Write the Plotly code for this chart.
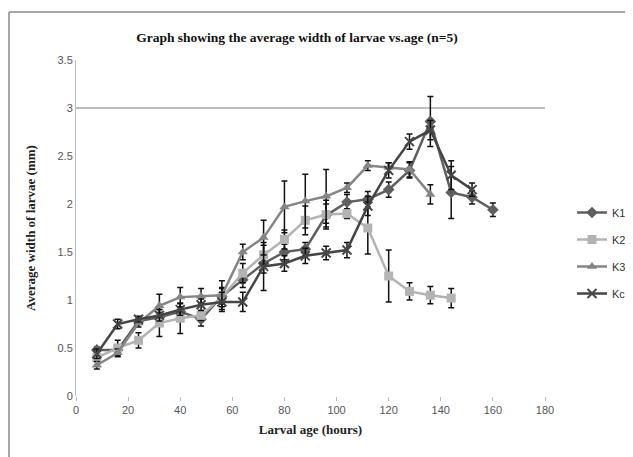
import plotly.graph_objects as go

age = [8, 16, 24, 32, 40, 48, 56, 64, 72, 80, 88, 96, 104, 112, 120, 128, 136, 144, 152, 160]

k1 = [0.48, 0.48, 0.78, 0.82, 0.88, 0.80, 1.04, 1.21, 1.38, 1.50, 1.53, 1.88, 2.02, 2.05, 2.15, 2.35, 2.86, 2.12, 2.07, 1.94]
k1_err = [0.03, 0.03, 0.03, 0.05, 0.05, 0.07, 0.08, 0.08, 0.10, 0.08, 0.07, 0.12, 0.08, 0.08, 0.08, 0.08, 0.26, 0.27, 0.07, 0.07]

k2 = [0.40, 0.50, 0.58, 0.76, 0.81, 0.84, 1.03, 1.28, 1.47, 1.63, 1.83, 1.89, 1.90, 1.75, 1.25, 1.09, 1.05, 1.02]
k2_err = [0.04, 0.08, 0.08, 0.14, 0.16, 0.05, 0.10, 0.10, 0.10, 0.10, 0.15, 0.15, 0.05, 0.27, 0.27, 0.09, 0.09, 0.10]

k3 = [0.32, 0.45, 0.76, 0.94, 1.03, 1.04, 1.05, 1.50, 1.65, 1.97, 2.03, 2.08, 2.17, 2.40, 2.38, 2.36, 2.10]
k3_err = [0.04, 0.04, 0.04, 0.12, 0.10, 0.08, 0.15, 0.08, 0.18, 0.27, 0.28, 0.28, 0.05, 0.05, 0.05, 0.08, 0.10]

kc = [0.44, 0.75, 0.80, 0.84, 0.90, 0.95, 0.98, 0.98, 1.35, 1.38, 1.46, 1.49, 1.52, 1.98, 2.35, 2.65, 2.77, 2.30, 2.15]
kc_err = [0.05, 0.05, 0.03, 0.06, 0.06, 0.06, 0.10, 0.10, 0.25, 0.08, 0.08, 0.07, 0.08, 0.10, 0.08, 0.08, 0.10, 0.15, 0.07]

x_ticks = [0, 20, 40, 60, 80, 100, 120, 140, 160, 180]
y_ticks = [0, 0.5, 1, 1.5, 2, 2.5, 3, 3.5]
y_tick_labels = ["0", "0.5", "1", "1.5", "2", "2.5", "3", "3.5"]

series = [
    ("K1", k1, k1_err, "#5f5f5f", "diamond", 9),
    ("K2", k2, k2_err, "#b3b3b3", "square", 9),
    ("K3", k3, k3_err, "#858585", "triangle-up", 9),
    ("Kc", kc, kc_err, "#454545", "x-thin-open", 9),
]

fig = go.Figure()
for name, vals, err, color, sym, size in series:
    marker = dict(symbol=sym, size=size, color=color)
    if "open" in sym:
        marker["line"] = dict(color=color, width=2)
    fig.add_trace(go.Scatter(
        x=age[:len(vals)], y=vals, name=name, legendgroup=name, mode="lines+markers",
        line=dict(color=color, width=2.5),
        marker=marker,
        error_y=dict(type="data", array=err, visible=True, color="#111111", thickness=1.5, width=3),
    ))

# plot geometry (figure pixels)
L, T, R, B = 68, 52, 96, 69
PW, PH = 633 - L - R, 457 - T - B

# horizontal line at 3 and outer chart border
fig.add_shape(type="line", xref="x", yref="y", x0=0, x1=180, y0=3, y1=3,
              line=dict(color="#7a7a7a", width=1.2), layer="below")
fig.add_shape(type="line", xref="paper", yref="paper",
              x0=(1 - L) / PW, x1=(1 - L) / PW, y0=(PH + T - 470) / PH, y1=(PH + T - 4) / PH,
              line=dict(color="#8a8a8a", width=1.5))
fig.add_shape(type="line", xref="paper", yref="paper",
              x0=(1 - L) / PW, x1=(650 - L) / PW, y0=(PH + T - 4) / PH, y1=(PH + T - 4) / PH,
              line=dict(color="#8a8a8a", width=1.5))

fig.update_layout(
    width=633, height=457,
    margin=dict(l=L, r=R, t=T, b=B, autoexpand=False),
    paper_bgcolor="white", plot_bgcolor="white",
    title=dict(text="<b>Graph showing the average width of larvae vs.age (n=5)</b>",
               x=(289 - L) / PW, xref="paper", xanchor="center", y=1 - 29 / 457, yanchor="middle",
               font=dict(family="Liberation Serif", size=13.5, color="#111111")),
    xaxis=dict(range=[0, 180], tickvals=x_ticks, showgrid=False, zeroline=False,
               showline=False, ticks="outside", ticklen=4, tickcolor="#bbbbbb",
               tickfont=dict(family="Liberation Sans", size=11, color="#555555"),
               title=dict(text="<b>Larval age (hours)</b>", standoff=9,
                          font=dict(family="Liberation Serif", size=13, color="#222222"))),
    yaxis=dict(range=[0, 3.5], tickvals=y_ticks, ticktext=y_tick_labels, showgrid=False,
               zeroline=False, showline=True, linecolor="#bbbbbb", linewidth=1,
               ticks="", tickfont=dict(family="Liberation Sans", size=11, color="#555555"),
               title=dict(text="<b>Average width of larvae (mm)</b>", standoff=18,
                          font=dict(family="Liberation Serif", size=13, color="#222222"))),
    legend=dict(x=(564 - L) / PW, y=(PH + T - 245) / PH, xanchor="left", yanchor="middle",
                font=dict(family="Liberation Sans", size=11, color="#333333"),
                tracegroupgap=8, itemwidth=30),
    showlegend=True,
)

fig.write_html("out.html")
